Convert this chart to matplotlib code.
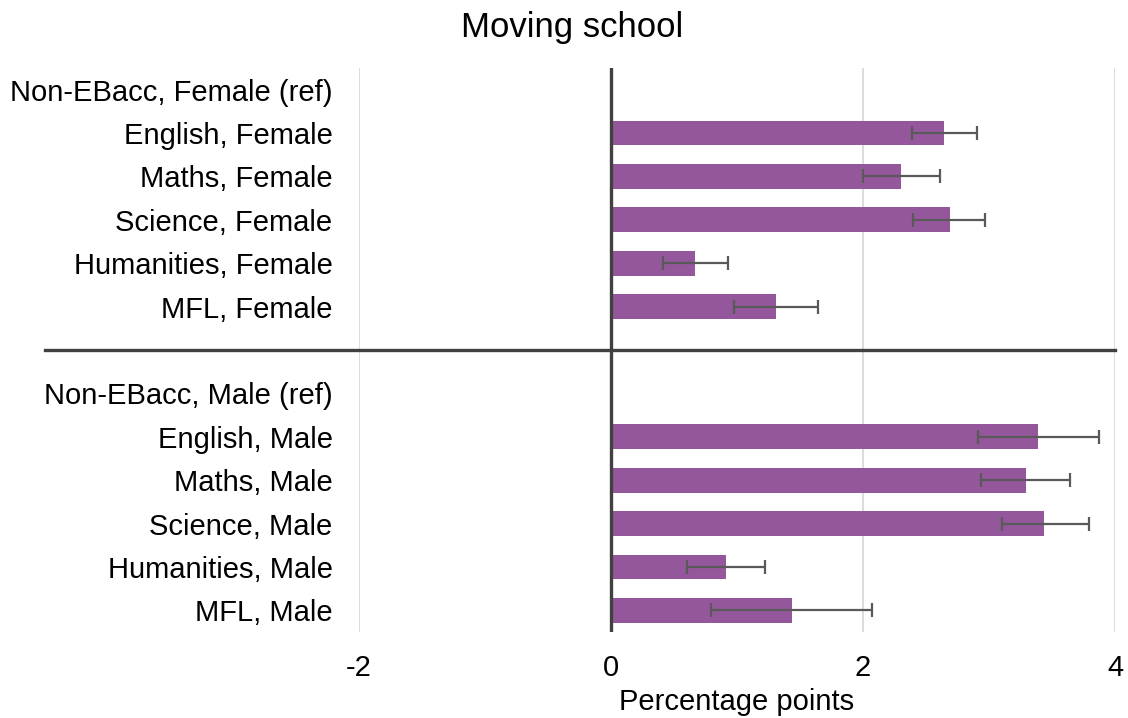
import numpy as np
import matplotlib.pyplot as plt

# ---------------------------------------------------------
# Data
# ---------------------------------------------------------
subjects = ["Non-EBacc", "English", "Maths", "Science", "Humanities", "MFL"]

female_est = [0.0, 2.645, 2.30, 2.69, 0.67, 1.31]
female_low = [0.0, 2.39, 2.00, 2.40, 0.415, 0.975]
female_high = [0.0, 2.905, 2.61, 2.97, 0.925, 1.64]

male_est = [0.0, 3.39, 3.29, 3.44, 0.915, 1.435]
male_low = [0.0, 2.91, 2.94, 3.10, 0.60, 0.79]
male_high = [0.0, 3.87, 3.64, 3.79, 1.22, 2.07]

x_ticks = [-2, 0, 2, 4]

# ---------------------------------------------------------
# Build rows: 6 female, one gap (divider), 6 male
# ---------------------------------------------------------
labels, est, low, high = [], [], [], []
for i, s in enumerate(subjects):
    labels.append(f"{s}, Female" + (" (ref)" if i == 0 else ""))
    est.append(female_est[i]); low.append(female_low[i]); high.append(female_high[i])
labels.append("")
est.append(np.nan); low.append(np.nan); high.append(np.nan)
for i, s in enumerate(subjects):
    labels.append(f"{s}, Male" + (" (ref)" if i == 0 else ""))
    est.append(male_est[i]); low.append(male_low[i]); high.append(male_high[i])

est = np.array(est); low = np.array(low); high = np.array(high)
pos = np.arange(len(labels))
is_ref = np.array(["(ref)" in l for l in labels])
gap = labels.index("")

# ---------------------------------------------------------
# Plot
# ---------------------------------------------------------
plt.rcParams['font.family'] = ['Liberation Sans', 'DejaVu Sans']
fig = plt.figure(figsize=(11.28, 7.18), dpi=100)
ax = fig.add_axes([359 / 1128, 1 - 632 / 718, (1115 - 359) / 1128, (632 - 68) / 718])

show = ~is_ref & ~np.isnan(est)
ax.barh(pos[show], est[show], height=0.57, color="#95579b", zorder=3)
ax.errorbar(est[show], pos[show],
            xerr=[est[show] - low[show], high[show] - est[show]],
            fmt="none", ecolor="#595959", elinewidth=1.6, capsize=5,
            capthick=1.6, zorder=4)

ax.set_xlim(-2, 4)
ax.set_ylim(len(labels) - 0.5, -0.5)
ax.set_xticks(x_ticks)
ax.set_xticklabels([str(t) for t in x_ticks], fontsize=21)
ax.set_yticks(pos)
ax.set_yticklabels(labels, fontsize=21)
ax.tick_params(axis="both", length=0)
ax.tick_params(axis="y", pad=19)
ax.tick_params(axis="x", pad=15.5)
ax.grid(axis="x", color="#d9d9d9", linewidth=1.3, zorder=0)
for sp in ax.spines.values():
    sp.set_visible(False)

ax.axvline(0, color="#404040", linewidth=2.4, zorder=5)
ax.axhline(gap, xmin=(45 - 359) / (1115 - 359), xmax=1, color="#404040",
           linewidth=2.4, clip_on=False, zorder=5)

ax.set_xlabel("Percentage points", fontsize=21, labelpad=5)
fig.suptitle("Moving school", fontsize=25, x=0.507, y=0.985)

fig.savefig("out.png", dpi=100)
